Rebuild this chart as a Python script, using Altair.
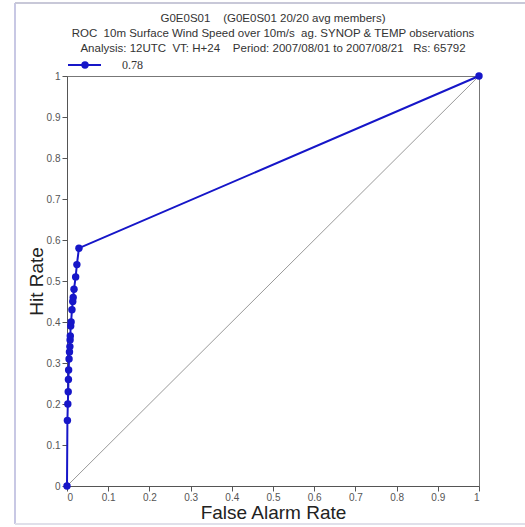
import altair as alt
import pandas as pd

far = [0, 0.001, 0.002, 0.003, 0.0035, 0.004, 0.005, 0.006, 0.007, 0.0075, 0.008,
       0.009, 0.01, 0.012, 0.014, 0.015, 0.017, 0.021, 0.024, 0.029, 1.0]
hit = [0, 0.16, 0.20, 0.23, 0.26, 0.283, 0.31, 0.327, 0.34, 0.356, 0.366,
       0.39, 0.40, 0.43, 0.45, 0.46, 0.48, 0.51, 0.54, 0.58, 1.0]
diag_x = [0, 1]
diag_y = [0, 1]
tick_vals = [0, 0.1, 0.2, 0.3, 0.4, 0.5, 0.6, 0.7, 0.8, 0.9, 1]
area_label = "0.78"
NB = "\u00a0"
titles = ["G0E0S01" + NB * 4 + "(G0E0S01 20/20 avg members)",
          "ROC" + NB * 2 + "10m Surface Wind Speed over 10m/s" + NB * 2 + "ag. SYNOP & TEMP observations",
          "Analysis: 12UTC" + NB * 2 + "VT: H+24" + NB * 4 + "Period: 2007/08/01 to 2007/08/21" + NB * 3 + "Rs: 65792"]

df = pd.DataFrame({"far": far, "hit": hit, "order": list(range(len(far)))})
diag = pd.DataFrame({"x": diag_x, "y": diag_y})

BLUE = "#1616c8"
FONT = "Liberation Sans"

xscale = alt.Scale(domain=[0, 1], nice=False, zero=False)
yscale = alt.Scale(domain=[0, 1], nice=False, zero=False)

xaxis = alt.Axis(values=tick_vals, format="~g", title="False Alarm Rate",
                 titleFontSize=19, titleFontWeight="normal", titleColor="#222",
                 titleFont=FONT, labelFont=FONT, labelFontSize=10, labelColor="#555",
                 tickColor="#555", tickSize=5, domainColor="#555", grid=False,
                 labelPadding=1, titlePadding=1)
yaxis = alt.Axis(values=tick_vals, format="~g", title="Hit Rate",
                 titleFontSize=19, titleFontWeight="normal", titleColor="#222",
                 titleFont=FONT, labelFont=FONT, labelFontSize=10, labelColor="#555",
                 tickColor="#555", tickSize=5, domainColor="#555", grid=False,
                 labelPadding=2, titlePadding=0)

diag_line = alt.Chart(diag).mark_line(color="#999", strokeWidth=1).encode(
    x=alt.X("x:Q", scale=xscale, axis=xaxis),
    y=alt.Y("y:Q", scale=yscale, axis=yaxis),
)

roc_line = alt.Chart(df).mark_line(color=BLUE, strokeWidth=2).encode(
    x=alt.X("far:Q", scale=xscale),
    y=alt.Y("hit:Q", scale=yscale),
    order="order:Q",
)
roc_pts = alt.Chart(df).mark_circle(color=BLUE, size=55, opacity=1).encode(
    x=alt.X("far:Q", scale=xscale),
    y=alt.Y("hit:Q", scale=yscale),
)

leg_df = pd.DataFrame({"label": [area_label]})
leg_line = alt.Chart(leg_df).mark_rule(color=BLUE, strokeWidth=2).encode(
    x=alt.value(1), x2=alt.value(34), y=alt.value(-11))
leg_pt = alt.Chart(leg_df).mark_circle(color=BLUE, size=55, opacity=1).encode(
    x=alt.value(18), y=alt.value(-11))
leg_txt = alt.Chart(leg_df).mark_text(font="Liberation Serif", fontSize=12, align="left",
                                      baseline="middle", color="#333").encode(
    x=alt.value(55), y=alt.value(-11), text="label:N")

title_layers = []
for i, ypos in enumerate([-57, -42, -27]):
    tdf = pd.DataFrame({"t": [titles[i]]})
    title_layers.append(
        alt.Chart(tdf).mark_text(font=FONT, fontSize=11.5, align="center",
                                 baseline="middle", color="#333").encode(
            x=alt.value(206), y=alt.value(ypos), text="t:N"))

frame_df = pd.DataFrame({"a": [0]})
frame_left = alt.Chart(frame_df).mark_rule(color="#c8c8e4", strokeWidth=2).encode(
    x=alt.value(-52), y=alt.value(-73), y2=alt.value(448))
frame_top = alt.Chart(frame_df).mark_rule(color="#c8c8d8", strokeWidth=2).encode(
    x=alt.value(-52), x2=alt.value(460), y=alt.value(-73))
frame_bot = alt.Chart(frame_df).mark_rule(color="#e0e0ea", strokeWidth=2).encode(
    x=alt.value(-52), x2=alt.value(460), y=alt.value(448))

chart = alt.layer(
    frame_left, frame_top, frame_bot,
    diag_line, roc_line, roc_pts, leg_line, leg_pt, leg_txt, *title_layers
).properties(
    width=412, height=410,
    autosize=alt.AutoSizeParams(type="none"),
    padding={"left": 67, "top": 76, "right": 46, "bottom": 41},
    background="white",
).configure_view(stroke="#777", strokeWidth=1)

chart.save("out.html", embed_options={"renderer": "svg", "actions": False})
